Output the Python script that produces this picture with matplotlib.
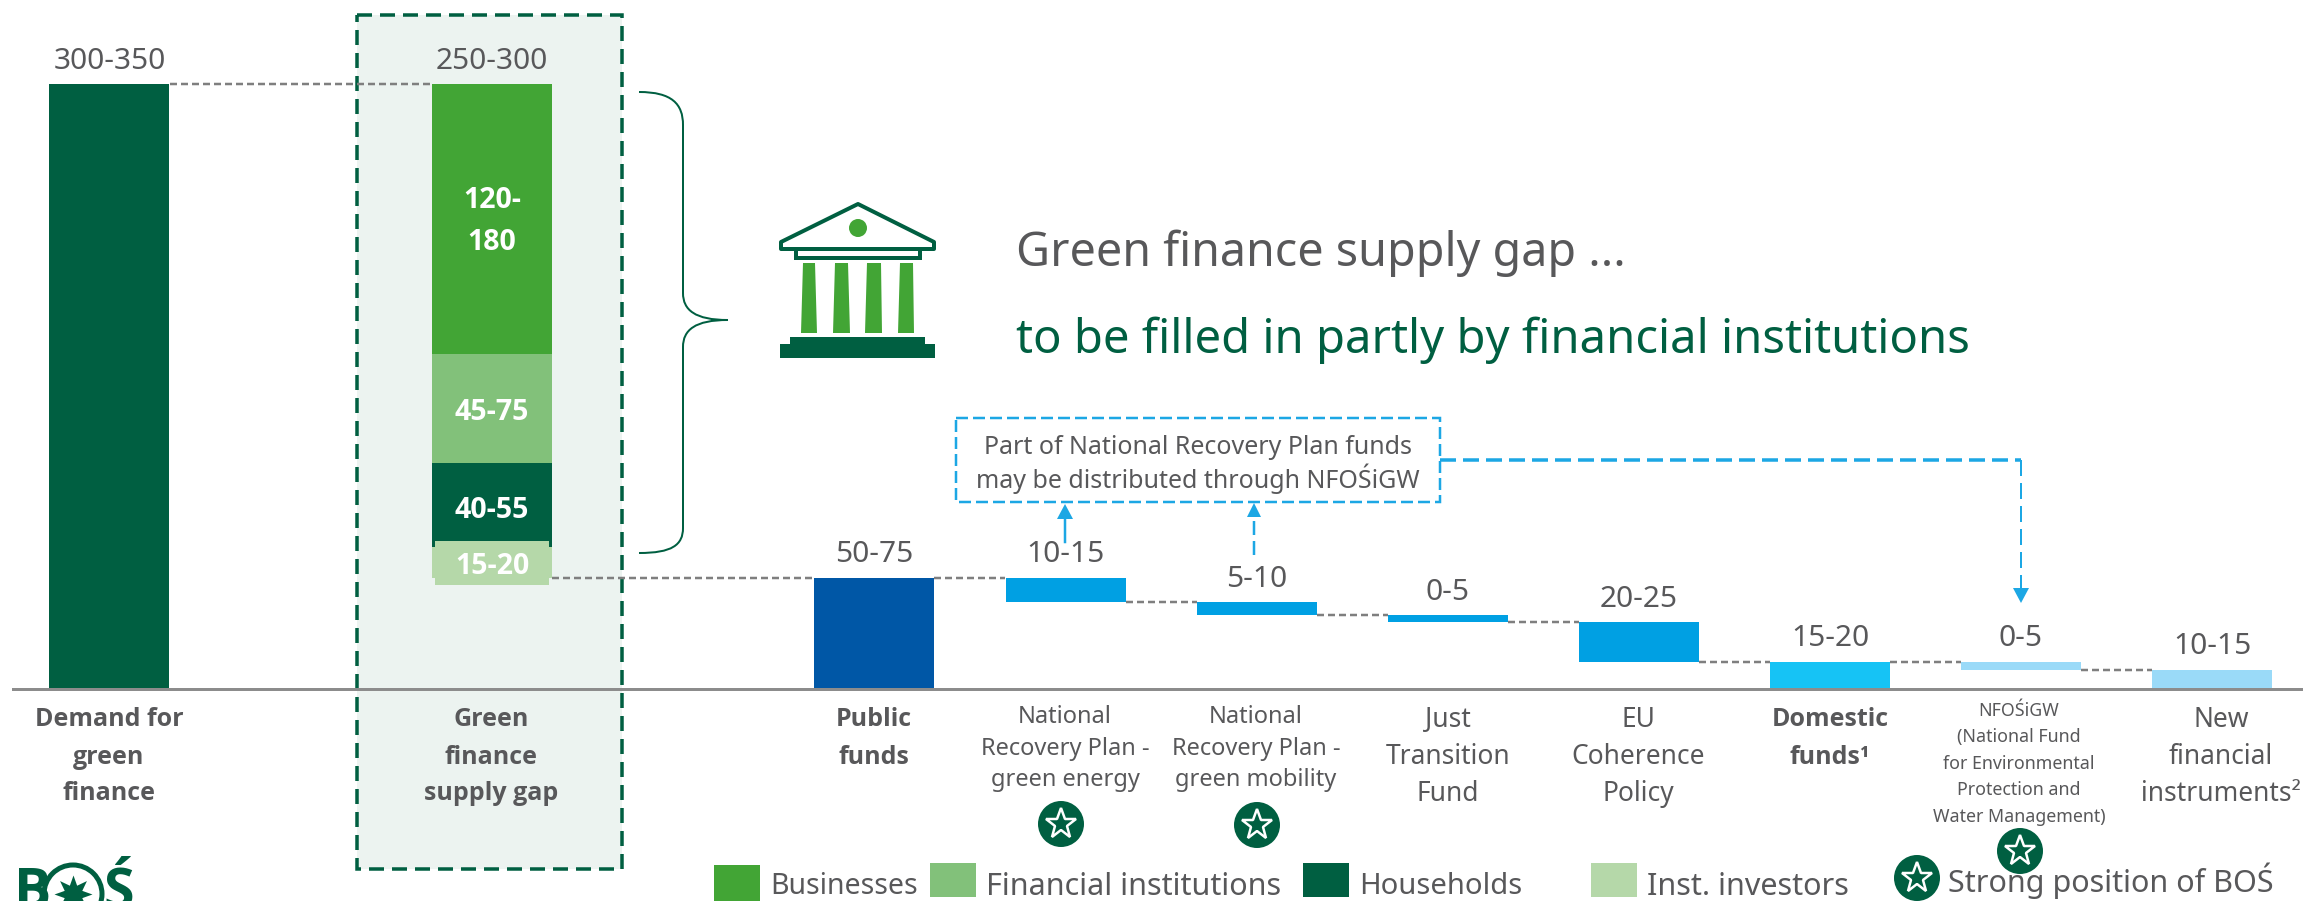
import numpy as np
import matplotlib
matplotlib.use('Agg')
import matplotlib.pyplot as plt
from matplotlib.patches import Rectangle, Polygon, Ellipse, PathPatch
from matplotlib.path import Path

plt.rcParams['font.family'] = ['Noto Sans', 'DejaVu Sans']
plt.rcParams['lines.scale_dashes'] = False

W, H = 2303, 901
PX = 0.72  # points per pixel at dpi 100
BOLD = ['Open Sans', 'DejaVu Sans']

GREY = '#58585A'
DARK = '#005F41'
GREEN = '#42A535'
LIGHT_GREEN = '#82C17A'
PALE_GREEN = '#B5D8A9'
NAVY = '#0057A6'
BLUE = '#00A0E3'
CYAN = '#16C3F5'
SKY = '#9ADAF8'
ARROW = '#1CA7E4'

# stacked column, bottom to top
gap_parts = [17, 46, 60, 148]
gap_labels = ['15-20', '40-55', '45-75']
gap_colors = [PALE_GREEN, DARK, LIGHT_GREEN, GREEN]
gap_base = 61
demand = 332

# waterfall steps
public_funds = 61
public_steps = [13.5, 7, 4, 21.5]
domestic_steps = [4.5, 10.5]
public_step_labels = ['10-15', '5-10', '0-5', '20-25']
domestic_step_labels = ['0-5', '10-15']
domestic_total = 15

fig = plt.figure(figsize=(W / 100, H / 100), dpi=100)
bg = fig.add_axes([0, 0, 1, 1], zorder=0)
ax = fig.add_axes([0, 0, 1, 1], zorder=1)
ov = fig.add_axes([0, 0, 1, 1], zorder=2)
for a in (bg, ov):
    a.set_xlim(0, W)
    a.set_ylim(H, 0)
    a.axis('off')
ov.patch.set_alpha(0)

# categories are 191 px apart, values 1.822 px per unit, zero at y=689
ax.set_xlim(-110 / 191.1, (W - 110) / 191.1)
ax.set_ylim((689 - H) / 1.822, 689 / 1.822)
ax.axis('off')
BW = 120 / 191.1

# shaded panel behind the gap column
bg.add_patch(Rectangle((357, 15), 265, 854, fc='#ECF3F0', ec=DARK, lw=3.5 * PX,
                       ls=(0, (15 * PX, 8 * PX))))


def connect(x0, x1, y):
    ax.plot([x0 + BW / 2, x1 - BW / 2], [y, y], color='#7F7F7F', lw=2.5 * PX,
            ls=(0, (7 * PX, 4 * PX)), zorder=1)


def value_label(x, y, s):
    ax.annotate(s, (x, y), xytext=(0, 23 * PX), textcoords='offset points', ha='center',
                va='center', fontsize=21.5, color=GREY, zorder=5)


# demand column, sits a little left of its slot
ax.bar(-0.005, demand, BW, color=DARK, zorder=2)
value_label(0, demand, '300-350')
connect(0, 2, demand)

# supply gap column
bottom = gap_base
for part, col in zip(gap_parts, gap_colors):
    ax.bar(2, part, BW, bottom=bottom, color=col, zorder=2)
    bottom += part
value_label(2, demand, '250-300')
# box behind the 15-20 label
ax.bar(2, 24, 114 / 191.1, bottom=57, color=PALE_GREEN, zorder=3)
connect(2, 4, gap_base)

gap_label_y = [567, 510, 412]
for lab, y in zip(gap_labels, gap_label_y):
    ov.text(492, y, lab, ha='center', va='center', fontsize=20.5, fontweight='bold',
            family=BOLD, color='white')
ov.text(492, 201, '120-', ha='center', va='center', fontsize=20.5, fontweight='bold', family=BOLD, color='white')
ov.text(492, 243, '180', ha='center', va='center', fontsize=20.5, fontweight='bold', family=BOLD, color='white')

# public funds and what it is made of
ax.bar(4, public_funds, BW, color=NAVY, zorder=2)
value_label(4, public_funds, '50-75')
level = public_funds
prev = 4
for i, (step, lab) in enumerate(zip(public_steps, public_step_labels)):
    x = 5 + i
    connect(prev, x, level)
    ax.bar(x, step, BW, bottom=level - step, color=BLUE, zorder=2)
    value_label(x, level, lab)
    level -= step
    prev = x
connect(prev, 9, level)

# domestic funds and what it is made of
ax.bar(9, domestic_total, BW, color=CYAN, zorder=2)
value_label(9, domestic_total, '15-20')
level = domestic_total
prev = 9
for i, (step, lab) in enumerate(zip(domestic_steps, domestic_step_labels)):
    x = 10 + i
    connect(prev, x, level)
    ax.bar(x, step, BW, bottom=level - step, color=SKY, zorder=2)
    value_label(x, level, lab)
    level -= step
    prev = x

ov.plot([13, W], [689, 689], color='#8C8C8C', lw=3 * PX)


def lines(x, ys, rows, size, bold=False):
    for y, row in zip(ys, rows):
        if bold:
            ov.text(x, y, row, ha='center', va='center', fontsize=size, fontweight='bold',
                    family=BOLD, color=GREY)
        else:
            ov.text(x, y, row, ha='center', va='center', fontsize=size, color=GREY)


rows3 = [720, 757, 794]
lines(109, rows3, ['Demand for', 'green', 'finance'], 18, True)
lines(491, rows3, ['Green', 'finance', 'supply gap'], 18, True)
lines(874, rows3, ['Public', 'funds'], 18, True)
lines(1065, [717, 749, 780], ['National', 'Recovery Plan -', 'green energy'], 17)
lines(1256, [717, 749, 780], ['National', 'Recovery Plan -', 'green mobility'], 17)
lines(1448, rows3, ['Just', 'Transition', 'Fund'], 19)
lines(1638, rows3, ['EU', 'Coherence', 'Policy'], 19)
lines(1830, rows3, ['Domestic', 'funds¹'], 18, True)
lines(2019, [711, 737, 764, 790, 817],
      ['NFOŚiGW', '(National Fund', 'for Environmental', 'Protection and', 'Water Management)'], 12.8)
lines(2221, rows3, ['New', 'financial', 'instruments²'], 19)

# headline
ov.text(1016, 253, 'Green finance supply gap ...', va='center', fontsize=33.6, color=GREY)
ov.text(1016, 340, 'to be filled in partly by financial institutions', va='center', fontsize=34, color=DARK)

# bank icon
ov.add_patch(Polygon([(858, 204), (781, 242), (781, 249), (934, 249), (934, 242)], closed=True,
                     fc='white', ec=DARK, lw=4 * PX, joinstyle='round'))
ov.add_patch(Rectangle((796, 249), 124, 9, fc='white', ec=DARK, lw=4 * PX))
ov.add_patch(Ellipse((858, 228), 18, 18, fc=GREEN, ec='none'))
for top0, top1, bot0, bot1 in [(803, 815, 801, 817), (835, 848, 833, 850),
                               (867, 881, 865, 882), (900, 913, 898, 914)]:
    ov.add_patch(Polygon([(top0, 263), (top1, 263), (bot1, 333), (bot0, 333)], fc=GREEN, ec='none'))
ov.add_patch(Rectangle((790, 337), 135, 8, fc=DARK, ec='none'))
ov.add_patch(Rectangle((780, 344), 155, 14, fc=DARK, ec='none'))

# curly brace
brace = Path([(639, 92), (672, 92), (683, 104), (683, 125), (683, 293),
              (683, 310), (695, 320), (728, 320),
              (695, 320), (683, 330), (683, 347), (683, 528),
              (683, 545), (672, 553), (639, 553)],
             [Path.MOVETO, Path.CURVE4, Path.CURVE4, Path.CURVE4, Path.LINETO,
              Path.CURVE4, Path.CURVE4, Path.CURVE4,
              Path.CURVE4, Path.CURVE4, Path.CURVE4, Path.LINETO,
              Path.CURVE4, Path.CURVE4, Path.CURVE4])
ov.add_patch(PathPatch(brace, fc='none', ec=DARK, lw=2 * PX))

# note box with arrows
ov.add_patch(Rectangle((956, 418), 484, 84, fc='white', ec=ARROW, lw=2.5 * PX,
                       ls=(0, (12 * PX, 5 * PX))))
ov.text(1198, 447, 'Part of National Recovery Plan funds', ha='center', va='center', fontsize=18, color=GREY)
ov.text(1198, 479, 'may be distributed through NFOŚiGW', ha='center', va='center', fontsize=18, color=GREY)
ov.plot([1440, 2021], [460, 460], color=ARROW, lw=3.5 * PX, ls=(0, (16 * PX, 7 * PX)))
ov.plot([2021, 2021], [460, 590], color=ARROW, lw=2 * PX, ls=(0, (16 * PX, 7 * PX)))
ov.add_patch(Polygon([(2013, 588), (2029, 588), (2021, 603)], fc=ARROW, ec='none'))
ov.plot([1065, 1065], [542, 518], color=ARROW, lw=2.5 * PX)
ov.add_patch(Polygon([(1057, 519), (1073, 519), (1065, 504)], fc=ARROW, ec='none'))
ov.plot([1254, 1254], [555, 516], color=ARROW, lw=2.5 * PX, ls=(0, (14 * PX, 6 * PX)))
ov.add_patch(Polygon([(1247, 517), (1261, 517), (1254, 503)], fc=ARROW, ec='none'))

# legend
legend_names = ['Businesses', 'Financial institutions', 'Households', 'Inst. investors']
legend_colors = [GREEN, LIGHT_GREEN, DARK, PALE_GREEN]
legend_x = [714, 930, 1303, 1591]
legend_y = [865, 863, 863, 863]
legend_size = [20.5, 22, 21, 22]
for name, col, x, y, size in zip(legend_names, legend_colors, legend_x, legend_y, legend_size):
    ov.add_patch(Rectangle((x, y), 46, H - y if x == 714 else 34, fc=col, ec='none'))
    ov.text(x + 56, 887, name, va='center', fontsize=size, color=GREY)
ov.text(1948, 881, 'Strong position of BOŚ', va='center', fontsize=22, color=GREY)


# star badges
def badge(x, y):
    ov.add_patch(Ellipse((x, y), 46, 46, fc=DARK, ec='none', zorder=6))
    ov.plot([x], [y], marker='*', ms=32 * PX, mfc='none', mec='white', mew=2.5 * PX, zorder=7)


for bx, by in [(1061, 824), (1257, 825), (2020, 851), (1917, 878)]:
    badge(bx, by)

# logo, cut by the lower edge
ov.text(14, 893, 'B', va='center', fontsize=40, fontweight='bold', family=BOLD, color=DARK)
ov.add_patch(Ellipse((73, 894), 58, 58, fc='none', ec=DARK, lw=5 * PX))
ov.plot([73], [894], marker=(8, 1, 0), ms=38 * PX, color=DARK, mew=0)
ov.text(103, 893, 'Ś', va='center', fontsize=40, fontweight='bold', family=BOLD, color=DARK)

fig.savefig('out.png', dpi=100)
